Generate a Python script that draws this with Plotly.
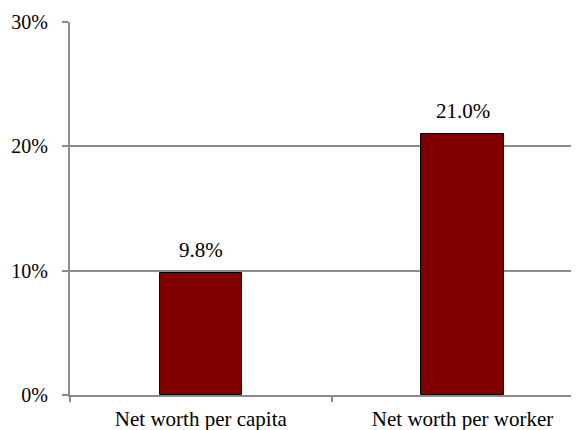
import plotly.graph_objects as go

categories = ["Net worth per capita", "Net worth per worker"]
values = [9.8, 21.0]
labels = ["9.8%", "21.0%"]
y_ticks = [0, 10, 20, 30]
y_ticktext = ["0%", "10%", "20%", "30%"]

FONT = "Liberation Serif, Times New Roman, serif"
GRAY = "#8c8c8c"

x_pos = list(range(len(categories)))

fig = go.Figure()
fig.add_trace(go.Bar(
    x=x_pos, y=values, width=0.315,
    marker=dict(color="#800000", line=dict(color="#000000", width=1)),
    showlegend=False,
))
# invisible trace for category-boundary tick marks
fig.add_trace(go.Scatter(x=[-0.5], y=[0], xaxis="x2", mode="markers",
                         marker=dict(opacity=0), showlegend=False, hoverinfo="skip"))

for xv, yv, lab in zip(x_pos, values, labels):
    fig.add_annotation(x=xv, y=yv, text=lab, showarrow=False,
                       yanchor="bottom", yshift=9,
                       font=dict(family=FONT, size=21, color="#000000"))

xr = [-0.5, 1.445]
fig.update_layout(
    width=571, height=422,
    margin=dict(l=62, r=0, t=14, b=35),
    paper_bgcolor="white", plot_bgcolor="white",
    bargap=0,
    font=dict(family=FONT, size=20, color="#000000"),
    xaxis=dict(
        range=xr, tickvals=x_pos, ticktext=categories,
        ticks="", showgrid=False, zeroline=False,
        showline=True, linecolor=GRAY, linewidth=2,
        tickfont=dict(family=FONT, size=21, color="#000000"),
        ticklabelstandoff=4,
    ),
    xaxis2=dict(
        range=xr, overlaying="x", side="bottom", anchor="y",
        tickvals=[-0.5, 0.5, 1.5], ticktext=["", "", ""],
        ticks="outside", ticklen=6, tickcolor=GRAY, tickwidth=1.5,
        showgrid=False, zeroline=False, showline=False,
    ),
    yaxis=dict(
        range=[0, 30], tickvals=y_ticks, ticktext=y_ticktext,
        showgrid=True, gridcolor=GRAY, gridwidth=1.5,
        zeroline=False, showline=True, linecolor=GRAY, linewidth=2,
        ticks="outside", ticklen=6, tickcolor=GRAY, tickwidth=1.5,
        tickfont=dict(family=FONT, size=20, color="#000000"),
        ticklabelstandoff=10,
    ),
)

fig.write_html("out.html")
